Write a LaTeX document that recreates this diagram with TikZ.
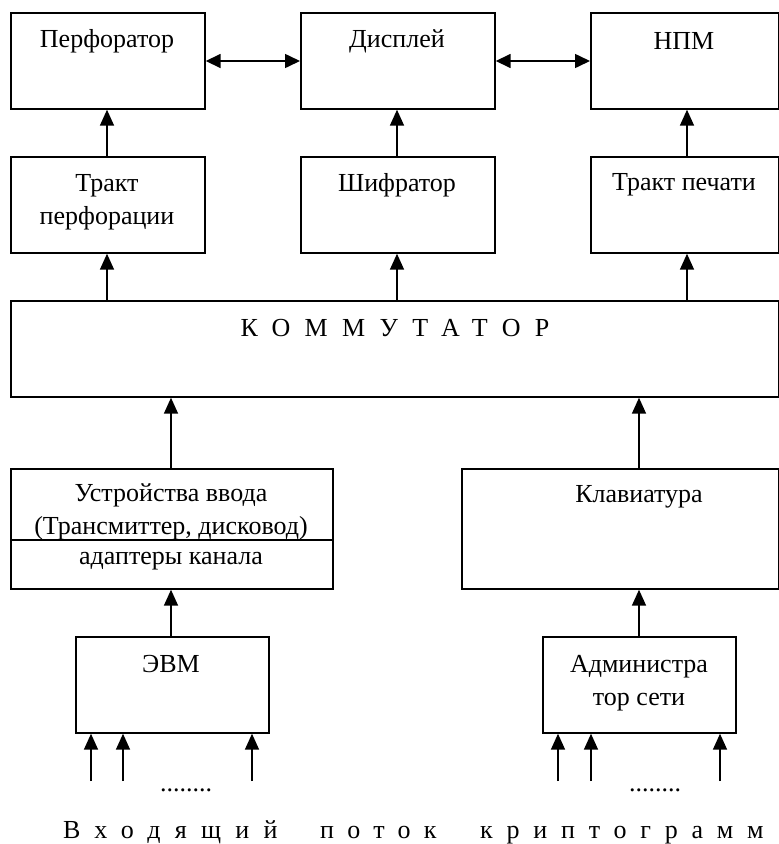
\documentclass[tikz,border=0pt]{standalone}
\usepackage{fontspec}
\setmainfont{Liberation Serif}
\usetikzlibrary{arrows.meta}
\begin{document}
\begin{tikzpicture}[x=1pt,y=-1pt,
  box/.style={draw, line width=1.7pt, inner sep=0pt, anchor=north west},
  txt/.style={inner sep=0pt, align=center, font=\fontsize{26}{33}\selectfont},
  arr/.style={line width=1.6pt, -{Triangle[length=16pt,width=14pt]}},
  darr/.style={line width=1.6pt, {Triangle[length=15pt,width=14pt]}-{Triangle[length=15pt,width=14pt]}},
]
\useasboundingbox (0,0) rectangle (779,844);
% boxes
\node[box, minimum width=194pt, minimum height=96pt] (perf) at (10,12) {};
\node[box, minimum width=194pt, minimum height=96pt] (disp) at (300,12) {};
\node[box, minimum width=188pt, minimum height=96pt] (npm) at (590,12) {};
\node[box, minimum width=194pt, minimum height=96pt] (trp) at (10,156) {};
\node[box, minimum width=194pt, minimum height=96pt] (shif) at (300,156) {};
\node[box, minimum width=188pt, minimum height=96pt] (trpech) at (590,156) {};
\node[box, minimum width=768pt, minimum height=96pt] (komm) at (10,300) {};
\node[box, minimum width=322pt, minimum height=120pt] (ustr) at (10,468) {};
\node[box, minimum width=317pt, minimum height=120pt] (klav) at (461,468) {};
\node[box, minimum width=193pt, minimum height=96pt] (evm) at (75,636) {};
\node[box, minimum width=193pt, minimum height=96pt] (adm) at (542,636) {};
% divider in input devices box
\coordinate (divl) at (10,540);
\coordinate (divr) at (332,540);
\draw[line width=1.7pt] (divl) -- (divr);
% texts
\node[txt] (tperf) at (107,41) {Перфоратор};
\node[txt] (tdisp) at (397,41) {Дисплей};
\node[txt] (tnpm) at (684,41) {НПМ};
\node[txt] (ttrp) at (107,202) {Тракт\\перфорации};
\node[txt] (tshif) at (397,185) {Шифратор};
\node[txt] (ttrpech) at (684,185) {Тракт печати};
\node[txt] (tkomm) at (395,328) {\addfontfeature{LetterSpace=55}КОММУТАТОР};
\node[txt] (tustr) at (171,512) {Устройства ввода\\(Трансмиттер, дисковод)};
\node[txt, anchor=base] (tadapt) at (171,564) {адаптеры канала};
\node[txt] (tklav) at (639,497) {Клавиатура};
\node[txt] (tevm) at (171,664) {ЭВМ};
\node[txt] (tadm) at (639,683) {Администра\\тор сети};
\node[txt, anchor=base] (dotsl) at (186,791) {........};
\node[txt, anchor=base] (dotsr) at (655,791) {........};
\node[txt, anchor=base west] (w1) at (63,838) {\addfontfeature{LetterSpace=55}Входящий};
\node[txt, anchor=base west] (w2) at (320,838) {\addfontfeature{LetterSpace=51}поток};
\node[txt, anchor=base west] (w3) at (480,838) {\addfontfeature{LetterSpace=53}криптограмм};
% helper x coordinates
\coordinate (x107) at (107,0);
\coordinate (x397) at (397,0);
\coordinate (x687) at (687,0);
\coordinate (x171) at (171,0);
\coordinate (x639) at (639,0);
% horizontal double arrows
\draw[darr] (perf.east |- 0,61) -- (disp.west |- 0,61);
\draw[darr] (disp.east |- 0,61) -- (npm.west |- 0,61);
% vertical arrows
\draw[arr] (trp.north -| x107) -- (perf.south -| x107);
\draw[arr] (shif.north -| x397) -- (disp.south -| x397);
\draw[arr] (trpech.north -| x687) -- (npm.south -| x687);
\draw[arr] (komm.north -| x107) -- (trp.south -| x107);
\draw[arr] (komm.north -| x397) -- (shif.south -| x397);
\draw[arr] (komm.north -| x687) -- (trpech.south -| x687);
\draw[arr] (ustr.north -| x171) -- (komm.south -| x171);
\draw[arr] (klav.north -| x639) -- (komm.south -| x639);
\draw[arr] (evm.north -| x171) -- (ustr.south -| x171);
\draw[arr] (adm.north -| x639) -- (klav.south -| x639);
% input arrows
\foreach \xx/\nm in {91/a1,123/a2,252/a3,558/b1,591/b2,720/b3}{
  \coordinate (in\nm) at (\xx,781);
}
\draw[arr] (ina1) -- (evm.south -| ina1);
\draw[arr] (ina2) -- (evm.south -| ina2);
\draw[arr] (ina3) -- (evm.south -| ina3);
\draw[arr] (inb1) -- (adm.south -| inb1);
\draw[arr] (inb2) -- (adm.south -| inb2);
\draw[arr] (inb3) -- (adm.south -| inb3);
\end{tikzpicture}
\end{document}
